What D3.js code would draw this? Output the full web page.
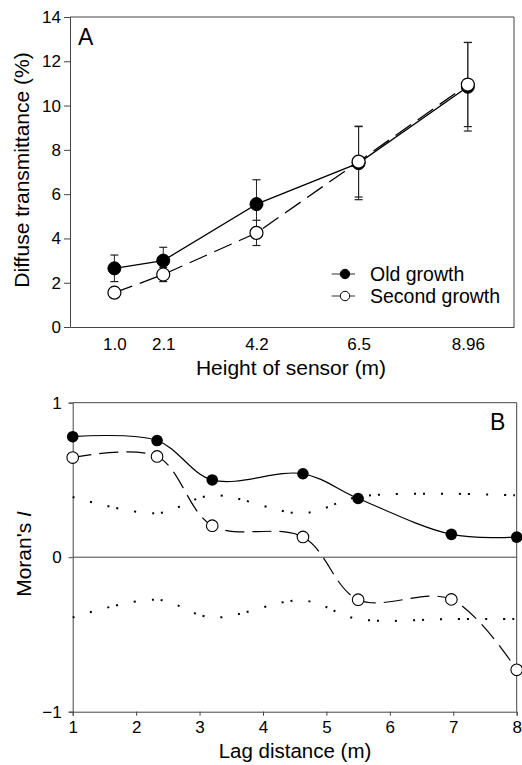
<!DOCTYPE html>
<html>
<head>
<meta charset="utf-8">
<title>Diffuse transmittance and Moran's I</title>
<script src="https://d3js.org/d3.v7.min.js"></script>
<style>
  body { margin: 0; background: #fff; }
  svg text { font-family: "Liberation Sans", Arial, Helvetica, sans-serif; fill: #000; }
</style>
</head>
<body>
<div id="chart"></div>
<script>
// Panel A data: diffuse transmittance (%) by sensor height
const heights = [1.0, 2.1, 4.2, 6.5, 8.96];
const heightLabels = ["1.0", "2.1", "4.2", "6.5", "8.96"];
const oldGrowth = [2.65, 3.0, 5.55, 7.4, 10.85];
const oldGrowthErr = [0.6, 0.6, 1.1, 1.65, 2.0];
const secondGrowth = [1.55, 2.37, 4.25, 7.47, 10.95];
const secondGrowthErr = [0.2, 0.32, 0.57, 1.6, 1.9];
const transTicks = [0, 2, 4, 6, 8, 10, 12, 14];

// Panel B data: Moran's I by lag distance
const lags = [1, 2.33, 3.2, 4.63, 5.5, 6.97, 8];
const oldMoran = [0.78, 0.755, 0.50, 0.54, 0.38, 0.148, 0.13];
const secondMoran = [0.645, 0.652, 0.204, 0.131, -0.275, -0.273, -0.729];
const upperEnv = [0.39, 0.285, 0.40, 0.285, 0.39, 0.41, 0.40];
const lowerEnv = [-0.39, -0.275, -0.39, -0.28, -0.40, -0.40, -0.40];
const lagTicks = [1, 2, 3, 4, 5, 6, 7, 8];
const moranTicks = [-1, 0, 1];

const W = 522, H = 765;
const svg = d3.select("#chart").append("svg")
  .attr("width", W).attr("height", H);

const axisColor = "#444";

// ---------- Panel A ----------
const xA = d3.scaleLinear().domain([0, 10]).range([70, 514]);
const yA = d3.scaleLinear().domain([0, 14]).range([327, 17]);

const gA = svg.append("g");

// frame top / right
gA.append("line").attr("x1", xA(0)).attr("x2", xA(10)).attr("y1", yA(14)).attr("y2", yA(14))
  .attr("stroke", axisColor).attr("stroke-width", 1);
gA.append("line").attr("x1", xA(10)).attr("x2", xA(10)).attr("y1", yA(14)).attr("y2", yA(0))
  .attr("stroke", axisColor).attr("stroke-width", 1);

// bottom axis, labels only
const axA = gA.append("g").attr("transform", `translate(0,${yA(0)})`)
  .call(d3.axisBottom(xA).tickValues(heights).tickFormat((d, i) => heightLabels[i]).tickSize(0).tickPadding(11));
axA.select(".domain").attr("stroke", axisColor);
axA.selectAll("text").attr("font-size", 17).attr("font-family", "Liberation Sans, Arial, sans-serif");

// left axis
const ayA = gA.append("g").attr("transform", `translate(${xA(0)},0)`)
  .call(d3.axisLeft(yA).tickValues(transTicks).tickSize(6).tickPadding(3));
ayA.select(".domain").attr("stroke", axisColor);
ayA.selectAll(".tick line").attr("stroke", axisColor);
ayA.selectAll("text").attr("font-size", 17).attr("font-family", "Liberation Sans, Arial, sans-serif");

// error bars
function errorBars(g, vals, errs) {
  const cap = 4;
  heights.forEach((h, i) => {
    const x = xA(h), lo = yA(vals[i] - errs[i]), hi = yA(vals[i] + errs[i]);
    g.append("line").attr("x1", x).attr("x2", x).attr("y1", lo).attr("y2", hi)
      .attr("stroke", "#222").attr("stroke-width", 1);
    [lo, hi].forEach(y => g.append("line").attr("x1", x - cap).attr("x2", x + cap)
      .attr("y1", y).attr("y2", y).attr("stroke", "#222").attr("stroke-width", 1.2));
  });
}
errorBars(gA, oldGrowth, oldGrowthErr);
errorBars(gA, secondGrowth, secondGrowthErr);

const lineA = d3.line().x((d, i) => xA(heights[i])).y(d => yA(d));
gA.append("path").datum(oldGrowth).attr("d", lineA)
  .attr("fill", "none").attr("stroke", "#000").attr("stroke-width", 1.3);
gA.append("path").datum(secondGrowth).attr("d", lineA)
  .attr("fill", "none").attr("stroke", "#000").attr("stroke-width", 1.3)
  .attr("stroke-dasharray", "19,8");

gA.selectAll(".oldA").data(oldGrowth).enter().append("circle")
  .attr("cx", (d, i) => xA(heights[i])).attr("cy", d => yA(d)).attr("r", 6.5)
  .attr("fill", "#000").attr("stroke", "#000");
gA.selectAll(".secA").data(secondGrowth).enter().append("circle")
  .attr("cx", (d, i) => xA(heights[i])).attr("cy", d => yA(d)).attr("r", 6.5)
  .attr("fill", "#fff").attr("stroke", "#000").attr("stroke-width", 1.2);

gA.append("text").attr("x", 78).attr("y", 45).attr("font-size", 23).text("A");

gA.append("text").attr("transform", "rotate(-90)")
  .attr("x", -170).attr("y", 29).attr("text-anchor", "middle").attr("font-size", 21)
  .text("Diffuse transmittance (%)");
gA.append("text").attr("x", 291).attr("y", 375).attr("text-anchor", "middle").attr("font-size", 21)
  .text("Height of sensor (m)");

// legend
const legend = gA.append("g");
[["Old growth", "#000", 274, 281], ["Second growth", "#fff", 296, 303]].forEach(([name, fill, cy, ty]) => {
  legend.append("line").attr("x1", 331.7).attr("x2", 355).attr("y1", cy).attr("y2", cy)
    .attr("stroke", "#333").attr("stroke-width", 1);
  legend.append("circle").attr("cx", 345).attr("cy", cy).attr("r", 4.7)
    .attr("fill", fill).attr("stroke", "#000").attr("stroke-width", 1);
  legend.append("text").attr("x", 370).attr("y", ty).attr("font-size", 19.5).text(name);
});

// ---------- Panel B ----------
const xB = d3.scaleLinear().domain([1, 8]).range([72.7, 516.7]);
const yB = d3.scaleLinear().domain([-1, 1]).range([711.7, 402.7]);
const gB = svg.append("g");

gB.append("line").attr("x1", xB(1)).attr("x2", xB(8)).attr("y1", yB(1)).attr("y2", yB(1))
  .attr("stroke", axisColor).attr("stroke-width", 1);
gB.append("line").attr("x1", xB(8)).attr("x2", xB(8)).attr("y1", yB(1)).attr("y2", yB(-1))
  .attr("stroke", axisColor).attr("stroke-width", 1);
gB.append("line").attr("x1", xB(1)).attr("x2", xB(8)).attr("y1", yB(0)).attr("y2", yB(0))
  .attr("stroke", axisColor).attr("stroke-width", 1);

const axB = gB.append("g").attr("transform", `translate(0,${yB(-1)})`)
  .call(d3.axisBottom(xB).tickValues(lagTicks).tickFormat(d3.format("d")).tickSize(4).tickPadding(5));
axB.select(".domain").attr("stroke", axisColor);
axB.selectAll(".tick line").attr("stroke", axisColor);
axB.selectAll("text").attr("font-size", 17).attr("font-family", "Liberation Sans, Arial, sans-serif");

const ayB = gB.append("g").attr("transform", `translate(${xB(1)},0)`)
  .call(d3.axisLeft(yB).tickValues(moranTicks).tickFormat(d => d < 0 ? "\u2212" + Math.abs(d) : d).tickSize(4).tickPadding(7));
ayB.select(".domain").attr("stroke", axisColor);
ayB.selectAll(".tick line").attr("stroke", axisColor);
ayB.selectAll("text").attr("font-size", 17).attr("font-family", "Liberation Sans, Arial, sans-serif");

const lineB = d3.line().x((d, i) => xB(lags[i])).y(d => yB(d)).curve(d3.curveCatmullRom);

[upperEnv, lowerEnv].forEach(env => {
  gB.append("path").datum(env).attr("d", lineB)
    .attr("fill", "none").attr("stroke", "#000").attr("stroke-width", 2)
    .attr("stroke-dasharray", "2,16,2,16,2,7");
});

gB.append("path").datum(oldMoran).attr("d", lineB)
  .attr("fill", "none").attr("stroke", "#000").attr("stroke-width", 1.2);
gB.append("path").datum(secondMoran).attr("d", lineB)
  .attr("fill", "none").attr("stroke", "#000").attr("stroke-width", 1.2)
  .attr("stroke-dasharray", "19,8");

gB.selectAll(".oldB").data(oldMoran).enter().append("circle")
  .attr("cx", (d, i) => xB(lags[i])).attr("cy", d => yB(d)).attr("r", 5.8)
  .attr("fill", "#000");
gB.selectAll(".secB").data(secondMoran).enter().append("circle")
  .attr("cx", (d, i) => xB(lags[i])).attr("cy", d => yB(d)).attr("r", 5.8)
  .attr("fill", "#fff").attr("stroke", "#000").attr("stroke-width", 1.1);

gB.append("text").attr("x", 490).attr("y", 430).attr("font-size", 23).text("B");

const moranLabel = gB.append("text").attr("transform", "rotate(-90)")
  .attr("x", -554).attr("y", 31).attr("text-anchor", "middle").attr("font-size", 21);
moranLabel.append("tspan").text("Moran's ");
moranLabel.append("tspan").attr("font-style", "italic").text("I");

gB.append("text").attr("x", 295).attr("y", 758).attr("text-anchor", "middle").attr("font-size", 20.5)
  .text("Lag distance (m)");
</script>
</body>
</html>
